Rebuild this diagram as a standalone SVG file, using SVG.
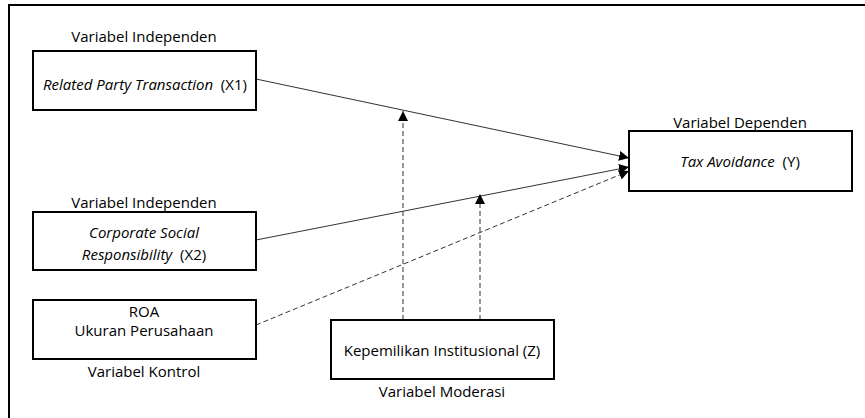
<svg xmlns="http://www.w3.org/2000/svg" width="865" height="418" viewBox="0 0 865 418">
<defs>
<style>
.box{fill:#fff;stroke:#000;stroke-width:2}
.t{font-family:"Open Sans","Liberation Sans",sans-serif;font-size:15px;fill:#000;text-anchor:middle}
.i{font-style:italic}
.ln{stroke:#333;stroke-width:1;fill:none}
.d{stroke-dasharray:5,3}
</style>
<marker id="ah" viewBox="0 0 10 10" refX="10" refY="5" markerWidth="10" markerHeight="10" markerUnits="userSpaceOnUse" orient="auto">
<path d="M0,0 L10,5 L0,10 Z" fill="#000"/>
</marker>
</defs>
<rect x="0" y="0" width="865" height="418" fill="#fff"/>
<rect x="9" y="5" width="870" height="430" fill="none" stroke="#000" stroke-width="2"/>
<g id="connectors">
<line class="ln" x1="256" y1="79" x2="629" y2="158" marker-end="url(#ah)"/>
<line class="ln" x1="256" y1="240" x2="629" y2="167" marker-end="url(#ah)"/>
<line class="ln d" x1="256" y1="325" x2="629" y2="171" marker-end="url(#ah)"/>
<line class="ln d" x1="403" y1="320" x2="403" y2="111" marker-end="url(#ah)"/>
<line class="ln d" x1="480" y1="320" x2="480" y2="194" marker-end="url(#ah)"/>
</g>
<g id="x1">
<text class="t" x="144" y="42">Variabel Independen</text>
<rect class="box" x="33" y="51" width="223" height="59"/>
<text class="t" x="145" y="90" xml:space="preserve"><tspan class="i">Related Party Transaction</tspan>  (X1)</text>
</g>
<g id="x2">
<text class="t" x="144" y="208">Variabel Independen</text>
<rect class="box" x="33" y="212" width="223" height="58"/>
<text class="t i" x="144" y="238">Corporate Social</text>
<text class="t" x="144" y="260" xml:space="preserve"><tspan class="i">Responsibility</tspan>  (X2)</text>
</g>
<g id="kontrol">
<rect class="box" x="33" y="300" width="223" height="59"/>
<text class="t" x="144" y="317">ROA</text>
<text class="t" x="144" y="336">Ukuran Perusahaan</text>
<text class="t" x="144" y="377">Variabel Kontrol</text>
</g>
<g id="z">
<rect class="box" x="331" y="320" width="223" height="59"/>
<text class="t" x="442" y="356">Kepemilikan Institusional (Z)</text>
<text class="t" x="442" y="397">Variabel Moderasi</text>
</g>
<g id="y">
<text class="t" x="740" y="128">Variabel Dependen</text>
<rect class="box" x="629" y="131" width="223" height="60"/>
<text class="t" x="740" y="167" xml:space="preserve"><tspan class="i">Tax Avoidance</tspan>  (Y)</text>
</g>
</svg>
